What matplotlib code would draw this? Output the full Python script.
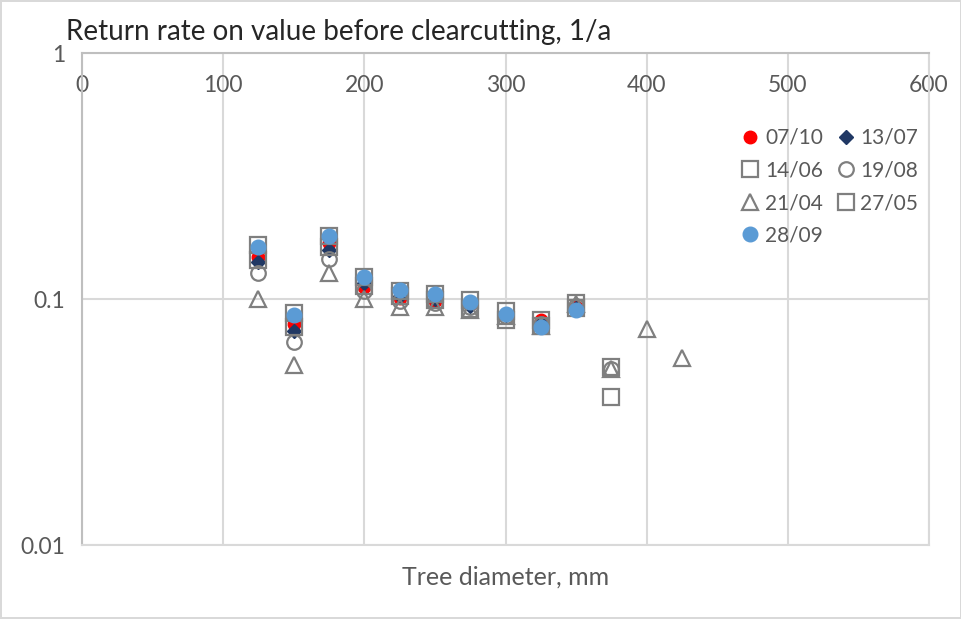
import numpy as np
import matplotlib
matplotlib.use('Agg')
import matplotlib.pyplot as plt
from matplotlib.ticker import NullLocator

plt.rcParams['font.family'] = ['Lato', 'DejaVu Sans']

# diameters, mm
x_main = [125, 150, 175, 200, 225, 250, 275, 300, 325, 350]
x_375 = x_main + [375]
x_425 = x_main + [375, 400, 425]

s_0710 = [0.148, 0.079, 0.169, 0.112, 0.101, 0.098, 0.095, 0.087, 0.082, 0.093]
s_1307 = [0.141, 0.074, 0.158, 0.116, 0.103, 0.100, 0.094, 0.086, 0.080, 0.092]
s_1406 = [0.166, 0.088, 0.181, 0.123, 0.108, 0.105, 0.099, 0.089, 0.082, 0.096, 0.053]
s_1908 = [0.128, 0.067, 0.146, 0.108, 0.098, 0.096, 0.093, 0.085, 0.079, 0.094, 0.052]
s_2104 = [0.100, 0.054, 0.128, 0.100, 0.093, 0.093, 0.090, 0.085, 0.078, 0.095, 0.052, 0.0755, 0.0575]
s_2705 = [0.144, 0.077, 0.163, 0.113, 0.103, 0.099, 0.091, 0.082, 0.078, 0.092, 0.040]
s_2809 = [0.162, 0.086, 0.180, 0.123, 0.109, 0.105, 0.097, 0.087, 0.077, 0.090]

GRAY = '#7f7f7f'
TXT = '#595959'
GRID = '#d9d9d9'

fig = plt.figure(figsize=(9.62, 6.19), dpi=100)
fig.patch.set_edgecolor(GRID)
fig.patch.set_linewidth(1.5)
ax = fig.add_axes([82/962, 1 - 545/619, (929 - 82)/962, (545 - 53)/619])

h = []
h.append(ax.plot(x_main, s_0710, 'o', ls='none', ms=9, mfc='#ff0000', mec='#ff0000', label='07/10')[0])
h.append(ax.plot(x_main, s_1307, 'D', ls='none', ms=7, mfc='#203864', mec='#203864', label='13/07')[0])
h.append(ax.plot(x_375, s_1406, 's', ls='none', ms=11, mfc='none', mec=GRAY, mew=1.6, label='14/06')[0])
h.append(ax.plot(x_375, s_1908, 'o', ls='none', ms=10.5, mfc='none', mec=GRAY, mew=1.6, label='19/08')[0])
h.append(ax.plot(x_425, s_2104, '^', ls='none', ms=12, mfc='none', mec=GRAY, mew=1.6, label='21/04')[0])
h.append(ax.plot(x_375, s_2705, 's', ls='none', ms=11, mfc='none', mec=GRAY, mew=1.6, label='27/05')[0])
h.append(ax.plot(x_main, s_2809, 'o', ls='none', ms=10.5, mfc='#5b9bd5', mec='#5b9bd5', label='28/09')[0])

ax.set_yscale('log')
ax.set_ylim(0.01, 1)
ax.set_xlim(0, 600)
ax.set_yticks([0.01, 0.1, 1])
ax.set_yticklabels(['0.01', '0.1', '1'])
ax.yaxis.set_minor_locator(NullLocator())
ax.set_xticks(np.arange(0, 601, 100))

ax.grid(True, color=GRID, lw=1.5)
ax.set_axisbelow(True)
for side in ['bottom', 'right']:
    ax.spines[side].set_color(GRID)
    ax.spines[side].set_linewidth(1.5)
for side in ['top', 'left']:
    ax.spines[side].set_color('#bfbfbf')
    ax.spines[side].set_linewidth(1.5)

ax.tick_params(axis='x', top=True, labeltop=True, bottom=False, labelbottom=False,
               length=0, pad=-31, labelsize=16.5, labelcolor=TXT)
ax.tick_params(axis='y', length=0, pad=12, labelsize=16.5, labelcolor=TXT)

ax.set_xlabel('Tree diameter, mm', fontsize=18, color=TXT, labelpad=15)
fig.text(66/962, 1 - 32/619, 'Return rate on value before clearcutting, 1/a',
         fontsize=20, color='#262626', va='center', ha='left')

order = [0, 2, 4, 6, 1, 3, 5]
ax.legend([h[i] for i in order], [h[i].get_label() for i in order], ncol=2,
          loc='upper left', bbox_to_anchor=(740/962, 1 - 128/619),
          bbox_transform=fig.transFigure, frameon=False, fontsize=15,
          handlelength=1.0, handletextpad=0.2, columnspacing=0.6,
          labelspacing=0.6, borderpad=0, borderaxespad=0,
          labelcolor=TXT, numpoints=1)

fig.savefig('out.png', dpi=100, edgecolor=fig.get_edgecolor())
